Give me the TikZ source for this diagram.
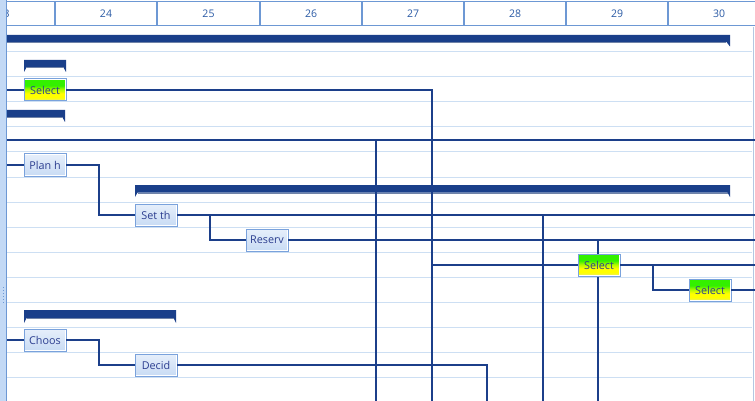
\documentclass[tikz,border=0pt]{standalone}
\usepackage{fontspec}
\setmainfont{Open Sans}
\usetikzlibrary{arrows.meta}
\definecolor{gridc}{HTML}{CDDFF3}
\definecolor{linkc}{HTML}{1C3F8A}
\definecolor{barc}{HTML}{1A3F8A}
\definecolor{barshade}{HTML}{7083A8}
\definecolor{hdrc}{HTML}{6D98D4}
\definecolor{hdrtext}{HTML}{2A5AA5}
\definecolor{taskborder}{HTML}{7AA2DC}
\definecolor{tasktext}{HTML}{2B3D8F}
\definecolor{tasktop}{HTML}{E6EFFB}
\definecolor{taskbot}{HTML}{C8DBF4}
\definecolor{stripc}{HTML}{C3D9F5}
\definecolor{edgec}{HTML}{B3C7E2}
\definecolor{hotgreen}{HTML}{33F000}
\definecolor{hotlime}{HTML}{B0FA00}
\definecolor{hotyellow}{HTML}{FFFF00}
\definecolor{paleyellow}{HTML}{E3EA7E}
% green-over-yellow fill of the highlighted tasks (0bp = bottom)
\pgfdeclareverticalshading{hotshade}{100bp}{color(0bp)=(paleyellow); color(25bp)=(paleyellow);
  color(33bp)=(hotyellow); color(42bp)=(hotyellow); color(51bp)=(hotlime);
  color(60bp)=(hotgreen); color(100bp)=(hotgreen)}
\tikzset{
  gridline/.style={draw=gridc, line width=1pt},
  link/.style={draw=linkc, line width=1.2pt},
  linkin/.style={link, -{Square[length=2.6pt,width=2.6pt]}},
  hdrcell/.style={draw=hdrc, line width=1pt},
  hdrlabel/.style={text=hdrtext, font=\fontsize{10.5}{12}\selectfont},
  task/.style={anchor=north west, minimum width=42pt, minimum height=22pt,
    inner sep=0pt, outer sep=0pt, draw=taskborder, line width=1pt,
    text=tasktext, font=\fontsize{10.8}{12}\selectfont,
    top color=tasktop, bottom color=taskbot,
    path picture={\draw[white,line width=2.6pt]
      (path picture bounding box.south west) rectangle
      (path picture bounding box.north east);}},
  hottask/.style={task, shading=hotshade, shading angle=0},
  summary/.style={fill=barc},
  summaryedge/.style={draw=barshade, line width=0.8pt},
}
\begin{document}
\begin{tikzpicture}[x=1pt,y=-1pt]
\useasboundingbox (0,0) rectangle (755,401);
\fill[white] (0,0) rectangle (755,401);

% row lines
\foreach \r in {52,77,...,377}
  \draw[gridline] (7,\r) -- (752,\r);
% right edge of the chart area
\draw[draw=edgec, line width=1pt] (753,27) -- (753,401);

% timescale header
\foreach \a/\b/\d in {-48/55/23,55/157/24,157/260/25,260/362/26,362/464/27,464/566/28,566/668/29,668/770/30}{
  \draw[hdrcell] (\a+0.5,2) rectangle (\b-0.5,26);
  \node[hdrlabel] (day\d) at ({(\a+\b)/2},14) {\d};
}

% summary bars
\fill[summary] (7,35) -- (730,35) -- (730,46.5) -- (726.5,42) -- (7,42) -- cycle;
\draw[summaryedge] (7,42.4) -- (726,42.4);
\fill[summary] (24,60) -- (66,60) -- (66,72) -- (63.5,67.5) -- (26.5,67.5) -- (24,72) -- cycle;
\draw[summaryedge] (26.5,67.9) -- (63.5,67.9);
\fill[summary] (7,110) -- (65,110) -- (65,122) -- (62.5,117.5) -- (7,117.5) -- cycle;
\draw[summaryedge] (7,117.9) -- (62.5,117.9);
\fill[summary] (135,185) -- (730,185) -- (730,197) -- (727.5,192.5) -- (137.5,192.5) -- (135,197) -- cycle;
\draw[summaryedge] (137.5,192.9) -- (727.5,192.9);
\fill[summary] (24,310) -- (176,310) -- (176,323) -- (173.5,318) -- (26.5,318) -- (24,323) -- cycle;
\draw[summaryedge] (26.5,318.4) -- (173.5,318.4);

% free ends and bends of the links
\coordinate (inA) at (7,90);
\coordinate (inB) at (7,165);
\coordinate (inC) at (7,340);
\coordinate (hl) at (7,140);
\coordinate (hr) at (755,140);
\coordinate (vA) at (376,140);
\coordinate (vAend) at (376,401);
\coordinate (vBend) at (432,401);
\coordinate (jB) at (432,265);
\coordinate (kA) at (99,215);
\coordinate (kB) at (99,365);
\coordinate (jS) at (210,215);
\coordinate (outS) at (755,215);
\coordinate (vC) at (543,215);
\coordinate (vCend) at (543,401);
\coordinate (outR) at (755,240);
\coordinate (vD) at (598,240);
\coordinate (vDend) at (598,401);
\coordinate (outT) at (755,265);
\coordinate (jT) at (653,265);
\coordinate (outU) at (755,290);
\coordinate (vEend) at (487,401);

% long links drawn beneath the tasks
\draw[link] (hl) -- (hr);
\draw[link] (vA) -- (vAend);
\draw[link] (vC) -- (vCend);
\draw[link] (vD) -- (vDend);

% tasks
\node[hottask] (sel1) at (24,79) {Select};
\node[task] (plan) at (24,154) {Plan h};
\node[task] (setth) at (135,204) {Set th};
\node[task] (reserv) at (246,229) {Reserv};
\node[hottask] (sel2) at (578,254) {Select};
\node[hottask] (sel3) at (689,279) {Select};
\node[task] (choos) at (24,329) {Choos};
\node[task] (decid) at (135,354) {Decid};

% links
\draw[linkin] (inA) -- (sel1.west);
\draw[linkin] (inB) -- (plan.west);
\draw[linkin] (inC) -- (choos.west);
\draw[link] (sel1.east) -| (vBend);
\draw[linkin] (jB) -- (sel2.west);
\draw[linkin] (plan.east) -| (kA) -- (setth.west);
\draw[link] (setth.east) -- (outS);
\draw[linkin] (jS) |- (reserv.west);
\draw[link] (reserv.east) -- (outR);
\draw[link] (sel2.east) -- (outT);
\draw[linkin] (jT) |- (sel3.west);
\draw[link] (sel3.east) -- (outU);
\draw[linkin] (choos.east) -| (kB) -- (decid.west);
\draw[link] (decid.east) -| (vEend);

% splitter strip on the left
\fill[stripc] (0,0) rectangle (5.5,401);
\fill[hdrc] (5.5,0) rectangle (7.2,401);
\foreach \g in {287,290,...,302}
  \fill[hdrc] (2.5,\g) rectangle (4,\g+1.3);
\end{tikzpicture}
\end{document}
